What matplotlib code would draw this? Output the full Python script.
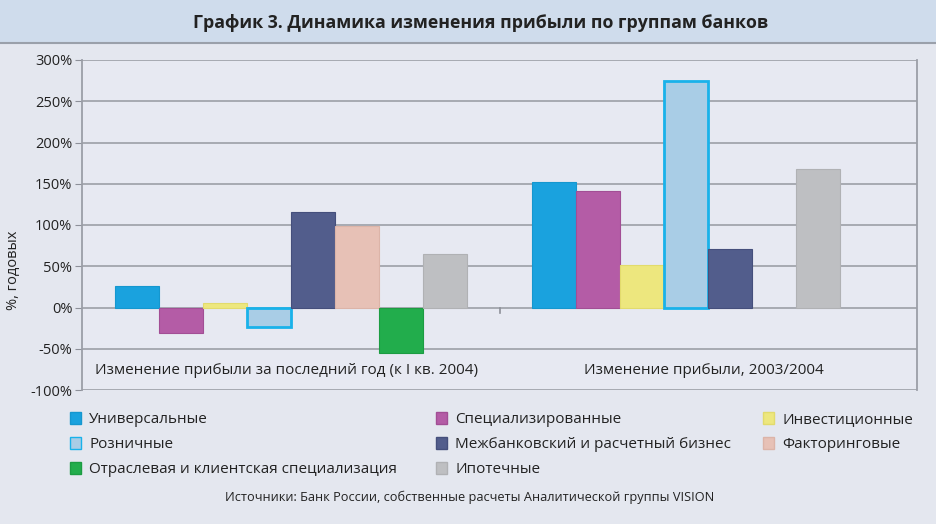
import numpy as np
import matplotlib
matplotlib.use("Agg")
import matplotlib.pyplot as plt
from matplotlib.patches import Rectangle

plt.rcParams['font.family'] = ['Open Sans', 'DejaVu Sans']

# ---------------- data ----------------
title = "График 3. Динамика изменения прибыли по группам банков"
categories = ["Изменение прибыли за последний год (к I кв. 2004)",
              "Изменение прибыли, 2003/2004"]
series = ["Универсальные", "Специализированные", "Инвестиционные", "Розничные",
          "Межбанковский и расчетный бизнес", "Факторинговые",
          "Отраслевая и клиентская специализация", "Ипотечные"]
vals_q1_2004 = [26, -31, 5, -24, 116, 99, -55, 65]
vals_2003_2004 = [152, 141, 51, 274, 71, np.nan, np.nan, 168]
# slot of each series inside its group (the reference draws the
# mortgage bar of the second group one slot to the left)
slots_q1_2004 = [0, 1, 2, 3, 4, 5, 6, 7]
slots_2003_2004 = [0, 1, 2, 3, 4, 5, 6, 6]
yticks = [-100, -50, 0, 50, 100, 150, 200, 250, 300]
ylabel = "%, годовых"
source = "Источники: Банк России, собственные расчеты Аналитической группы VISION"

colors = ["#1aa2de", "#b45ca6", "#ede77e", "#a9cde6",
          "#525d8c", "#e7c1b6", "#22ad4c", "#bebfc2"]
edges = ["#1597cf", "#a24e95", "#e2db6c", "#19b2ea",
         "#454f7c", "#dcb4a8", "#1c9c42", "#b0b1b4"]

# ---------------- figure ----------------
W, H = 936, 524
fig = plt.figure(figsize=(W / 100, H / 100), dpi=100)
fig.patch.set_facecolor("#e4e7ef")

# header band
fig.patches.append(Rectangle((0, 1 - 42 / H), 1, 42 / H, transform=fig.transFigure,
                             facecolor="#cfdcec", edgecolor="none", zorder=0))
fig.lines.append(plt.Line2D([0, 1], [1 - 43 / H, 1 - 43 / H], transform=fig.transFigure,
                            color="#9aa0aa", lw=1.5))
fig.text(481 / W, 1 - 23 / H, title, ha="center", va="center",
         fontsize=12.8, fontweight="bold", color="#222222")

ax = fig.add_axes([82 / W, 1 - 390 / H, (917 - 82) / W, (390 - 60) / H])
ax.set_facecolor("#e7e9f2")

n = len(series)
bw = 1.0 / (n + 1.5)
for gi, (vals, slots) in enumerate([(vals_q1_2004, slots_q1_2004),
                                     (vals_2003_2004, slots_2003_2004)]):
    for si in range(n):
        v = vals[si]
        if np.isnan(v):
            continue
        x = gi + (slots[si] - (n - 1) / 2) * bw
        lw = 2.0 if si == 3 else 0.8
        ax.bar(x, v, width=bw, color=colors[si], edgecolor=edges[si],
               linewidth=lw, zorder=3)

ax.set_xlim(-0.5, 1.5)
ax.set_ylim(-100, 300)
ax.set_yticks(yticks)
ax.set_yticklabels([f"{t}%" for t in yticks], fontsize=10.5, color="#222222")
ax.tick_params(axis="y", length=5, color="#8d9099", pad=2)
ax.set_xticks([])
ax.yaxis.grid(True, color="#a2a5ad", lw=1.3, zorder=1)
ax.set_axisbelow(True)
for s in ["left", "right"]:
    ax.spines[s].set_color("#9b9ea7")
    ax.spines[s].set_linewidth(1.3)
for s in ["top", "bottom"]:
    ax.spines[s].set_visible(False)

# category separator tick on the zero line
ax.plot([0.5, 0.5], [0, -7], color="#8d9099", lw=1.2, zorder=2)

for gi, cat in enumerate(categories):
    ax.text(gi - 0.01, -76, cat, ha="center", va="center", fontsize=11,
            color="#222222", zorder=4)

fig.text(14 / W, 1 - 270 / H, ylabel, rotation=90, ha="center", va="center",
         fontsize=10.5, color="#222222")

# legend in three columns
handles = [Rectangle((0, 0), 1, 1, facecolor=colors[i], edgecolor=edges[i]) for i in range(n)]
cols = [[0, 3, 6], [1, 4, 7], [2, 5]]
xpos = [70, 436, 763]
for ci, idx in enumerate(cols):
    leg = fig.legend([handles[i] for i in idx], [series[i] for i in idx],
                     loc="upper left", bbox_to_anchor=(xpos[ci] / W, 1 - 412 / H),
                     frameon=False, fontsize=11, handlelength=0.7, handleheight=0.85,
                     handletextpad=0.55, labelspacing=0.62, borderaxespad=0,
                     borderpad=0)
    for t in leg.get_texts():
        t.set_color("#222222")

fig.text(470 / W, 1 - 497 / H, source, ha="center", va="center",
         fontsize=9.2, color="#222222")

fig.savefig("out.png", dpi=100, facecolor=fig.get_facecolor())
